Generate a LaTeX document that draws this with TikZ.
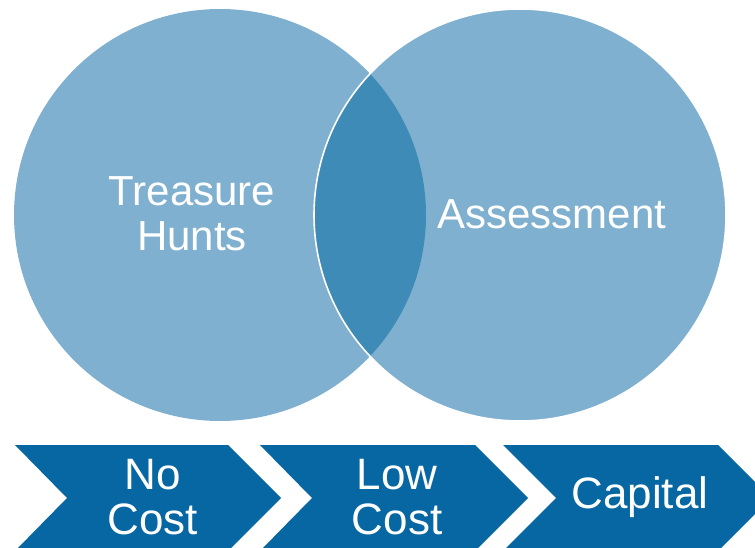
\documentclass[tikz,border=0pt]{standalone}
\usepackage{fontspec}
\setmainfont{Liberation Sans}
\definecolor{circfill}{RGB}{127,176,207}
\definecolor{lensfill}{RGB}{63,139,184}
\definecolor{chevfill}{RGB}{6,103,163}
\begin{document}
\begin{tikzpicture}[x=1pt,y=-1pt,
  circ/.style={fill=circfill},
  lens/.style={fill=lensfill},
  chev/.style={fill=chevfill},
  label/.style={text=white,align=center,inner sep=0pt,
    font=\fontsize{42}{45}\selectfont},
  chevlabel/.style={text=white,align=center,inner sep=0pt,
    font=\fontsize{44}{45}\selectfont}]
  \useasboundingbox (0,0) rectangle (755,548);

  % the two overlapping circles
  \coordinate (cl) at (220,215);
  \coordinate (cr) at (520,215);
  \fill[circ] (cl) circle[radius=206];
  \fill[circ] (cr) circle[radius=206];
  \begin{scope}
    \clip (cl) circle[radius=206];
    \fill[lens] (cr) circle[radius=206];
  \end{scope}
  \draw[white,line width=1.6] (cr) circle[radius=206];

  \node[label] (th) at (192,214) {Treasure\\Hunts};
  \node[label] (as) at (552,214) {Assessment};

  % chevron band
  \begin{scope}
    \clip (0,0) rectangle (755,548);
    \fill[chev] (15,445) -- (228,445) -- (281,498) -- (228,551)
      -- (15,551) -- (67,498) -- cycle;
    \fill[chev] (260,445) -- (475,445) -- (528,498) -- (475,551)
      -- (260,551) -- (312,498) -- cycle;
    \fill[chev] (503,445) -- (718,445) -- (771,498) -- (718,551)
      -- (503,551) -- (556,498) -- cycle;
  \end{scope}

  \node[chevlabel] (nc) at (153,497) {No\\Cost};
  \node[chevlabel] (lc) at (397,497) {Low\\Cost};
  \node[chevlabel] (cp) at (640,497) {Capital};
\end{tikzpicture}
\end{document}
